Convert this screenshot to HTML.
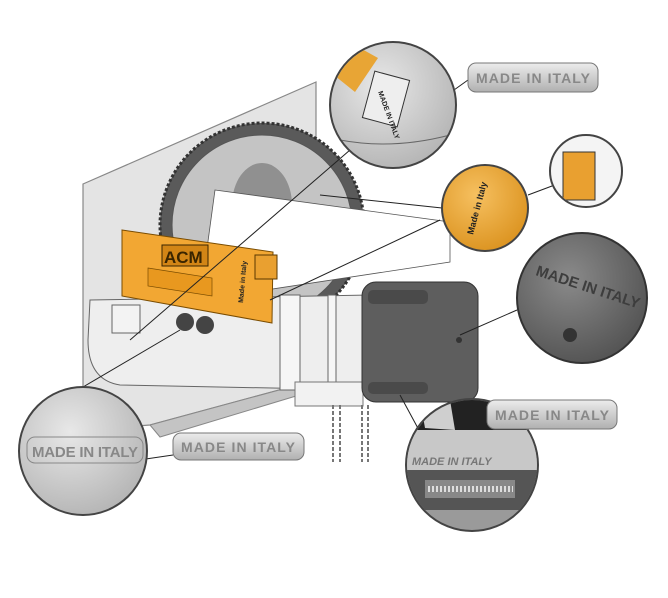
<!DOCTYPE html>
<html><head><meta charset="utf-8"><style>
html,body{margin:0;padding:0;background:#fff;}
svg{display:block}
text{font-family:"Liberation Sans",sans-serif;font-weight:bold}
</style></head><body>
<svg width="668" height="598" viewBox="0 0 668 598" xmlns="http://www.w3.org/2000/svg">
<defs>
<radialGradient id="gm" cx="40%" cy="35%" r="75%"><stop offset="0" stop-color="#e8e8e8"/><stop offset="1" stop-color="#b0b0b0"/></radialGradient>
<radialGradient id="gd" cx="40%" cy="35%" r="75%"><stop offset="0" stop-color="#8a8a8a"/><stop offset="1" stop-color="#4e4e4e"/></radialGradient>
<radialGradient id="go" cx="40%" cy="35%" r="75%"><stop offset="0" stop-color="#f6c060"/><stop offset="1" stop-color="#d98f1a"/></radialGradient>
<linearGradient id="pill" x1="0" y1="0" x2="0" y2="1"><stop offset="0" stop-color="#ececec"/><stop offset="1" stop-color="#b0b0b0"/></linearGradient>
<clipPath id="cbr"><circle cx="472" cy="465" r="65"/></clipPath>
<clipPath id="ctop"><circle cx="393" cy="105" r="62"/></clipPath>
<clipPath id="csm"><circle cx="586" cy="171" r="35"/></clipPath>
</defs>
<!-- plate -->
<polygon points="83,184 316,82 316,380 150,425 83,430" fill="#e4e4e4" stroke="#888" stroke-width="1.2"/>
<polygon points="150,425 316,380 316,390 160,437" fill="#c4c4c4" stroke="#888"/>
<!-- gear -->
<circle cx="262" cy="225" r="102" fill="#5a5a5a" stroke="#333" stroke-width="3" stroke-dasharray="3 2"/>
<circle cx="262" cy="225" r="90" fill="#c4c4c4" stroke="#555"/>
<ellipse cx="262" cy="205" rx="30" ry="42" fill="#909090"/>
<!-- white tube -->
<polygon points="215,190 450,222 450,262 200,300" fill="#fff" stroke="#555" stroke-width="0.8"/>
<!-- motor body -->
<path d="M90,300 L370,295 L370,390 L120,385 Q88,380 88,340 Z" fill="#eeeeee" stroke="#666"/>
<rect x="280" y="295" width="20" height="95" fill="#f6f6f6" stroke="#666"/>
<rect x="328" y="295" width="8" height="95" fill="#f6f6f6" stroke="#666"/>
<rect x="295" y="382" width="68" height="24" fill="#f2f2f2" stroke="#777"/>
<circle cx="185" cy="322" r="9" fill="#444"/><circle cx="205" cy="325" r="9" fill="#444"/>
<rect x="112" y="305" width="28" height="28" fill="#f3f3f3" stroke="#666"/>
<!-- chains -->
<path d="M333,405 L333,462 M340,405 L340,462 M362,405 L362,462 M368,405 L368,462" stroke="#777" stroke-width="2" stroke-dasharray="4 2"/>
<!-- dark housing -->
<rect x="362" y="282" width="116" height="120" rx="14" fill="#5e5e5e" stroke="#333"/>
<rect x="368" y="290" width="60" height="14" rx="5" fill="#4a4a4a"/>
<rect x="368" y="382" width="60" height="12" rx="5" fill="#4a4a4a"/>
<circle cx="459" cy="340" r="3" fill="#333"/>
<!-- orange box -->
<polygon points="122,230 273,252 272,323 122,296" fill="#f2a733" stroke="#7a4c00"/>
<rect x="162" y="245" width="46" height="21" fill="#d28516" stroke="#3a2500"/>
<text x="164" y="263" font-size="17" fill="#3a2500">ACM</text>
<polygon points="148,268 212,278 212,296 148,286" fill="#e8981f" stroke="#7a4c00" stroke-width="0.7"/>
<rect x="255" y="255" width="22" height="24" fill="#e9a030" stroke="#5a3800"/>
<text transform="translate(243,303) rotate(-85)" font-size="7" fill="#222">Made in Italy</text>
<!-- connector lines -->
<g stroke="#222" stroke-width="1" fill="none">
<line x1="350" y1="150" x2="130" y2="340"/>
<line x1="440" y1="220" x2="270" y2="300"/>
<line x1="442" y1="208" x2="320" y2="195"/>
<line x1="528" y1="195" x2="560" y2="183"/>
<line x1="517" y1="310" x2="460" y2="335"/>
<line x1="420" y1="432" x2="400" y2="395"/>
<line x1="83" y1="387" x2="180" y2="330"/>
<line x1="125" y1="462" x2="173" y2="455"/>
<line x1="440" y1="100" x2="468" y2="80"/>
<line x1="520" y1="436" x2="500" y2="455"/>
</g>
<!-- top circle -->
<circle cx="393" cy="105" r="63" fill="url(#gm)" stroke="#444" stroke-width="2"/>
<g clip-path="url(#ctop)">
<polygon points="330,72 360,48 378,58 355,92" fill="#e8a535"/>
<rect x="368" y="75" width="36" height="48" fill="#eee" stroke="#333" transform="rotate(15 386 99)"/>
<text transform="translate(378,92) rotate(70)" font-size="7" fill="#222">MADE IN ITALY</text>
<path d="M340,140 Q393,150 450,135" stroke="#666" fill="none"/>
</g>
<!-- orange circle -->
<circle cx="485" cy="208" r="43" fill="url(#go)" stroke="#444" stroke-width="2"/>
<text transform="translate(473,235) rotate(-75)" font-size="9" fill="#222">Made in Italy</text>
<!-- small circle -->
<circle cx="586" cy="171" r="36" fill="#f4f4f4" stroke="#444" stroke-width="2"/>
<g clip-path="url(#csm)"><rect x="563" y="152" width="32" height="48" fill="#e9a030" stroke="#333"/></g>
<!-- dark circle -->
<circle cx="582" cy="298" r="65" fill="url(#gd)" stroke="#333" stroke-width="2"/>
<text transform="translate(535,275) rotate(18)" font-size="15" fill="#3d3d3d">MADE IN ITALY</text>
<circle cx="570" cy="335" r="7" fill="#333"/>
<!-- bottom right circle -->
<circle cx="472" cy="465" r="66" fill="#9a9a9a" stroke="#444" stroke-width="2"/>
<g clip-path="url(#cbr)">
<rect x="400" y="395" width="145" height="40" fill="#222"/>
<polygon points="420,400 450,400 455,430 425,428" fill="#cfcfcf"/>
<rect x="400" y="430" width="145" height="40" fill="#c8c8c8"/>
<rect x="400" y="470" width="145" height="40" fill="#555"/>
<rect x="425" y="480" width="90" height="18" fill="#888"/>
<path d="M428,489 h85" stroke="#ddd" stroke-width="6" stroke-dasharray="2 2"/>
<text x="412" y="465" font-size="11" fill="#777" font-style="italic">MADE IN ITALY</text>
</g>
<!-- bottom left circle -->
<circle cx="83" cy="451" r="64" fill="url(#gm)" stroke="#444" stroke-width="2"/>
<rect x="27" y="437" width="116" height="26" rx="8" fill="none" stroke="#888"/>
<text x="32" y="457" font-size="15" fill="#888" textLength="106">MADE IN ITALY</text>
<!-- pills -->
<rect x="468" y="63" width="130" height="29" rx="8" fill="url(#pill)" stroke="#777"/>
<text x="476" y="83" font-size="14" fill="#888" textLength="114">MADE IN ITALY</text>
<rect x="173" y="433" width="131" height="27" rx="8" fill="url(#pill)" stroke="#777"/>
<text x="181" y="452" font-size="14" fill="#888" textLength="114">MADE IN ITALY</text>
<rect x="487" y="400" width="130" height="29" rx="8" fill="url(#pill)" stroke="#777"/>
<text x="495" y="420" font-size="14" fill="#888" textLength="114">MADE IN ITALY</text>
</svg>
</body></html>
